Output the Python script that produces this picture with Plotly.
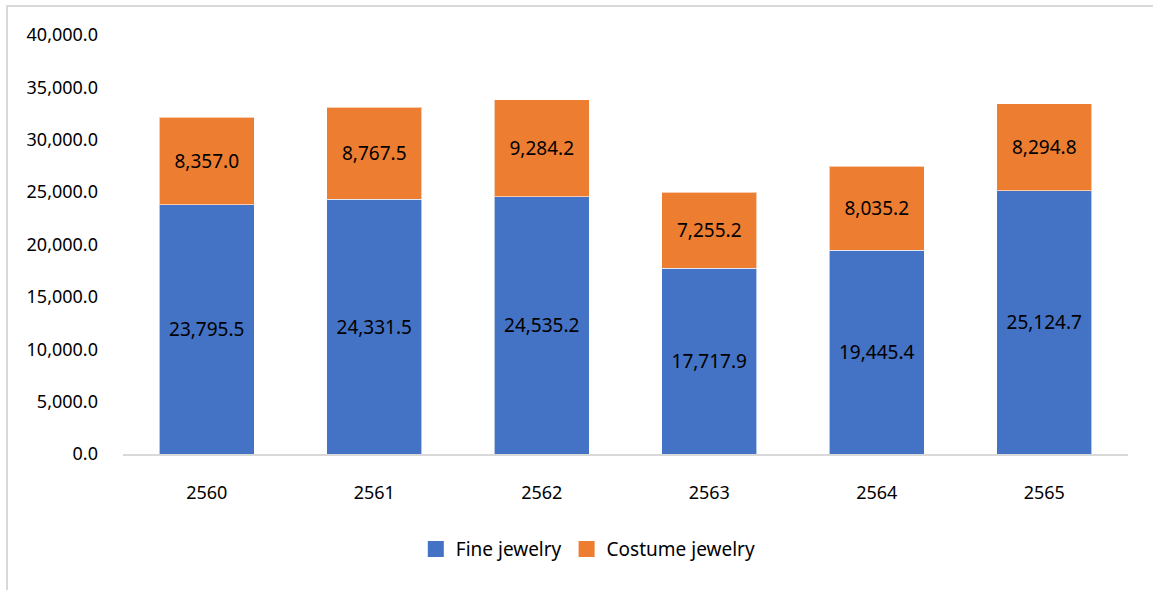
import plotly.graph_objects as go

years = ["2560", "2561", "2562", "2563", "2564", "2565"]
fine = [23795.5, 24331.5, 24535.2, 17717.9, 19445.4, 25124.7]
costume = [8357.0, 8767.5, 9284.2, 7255.2, 8035.2, 8294.8]
series_names = ["Fine jewelry", "Costume jewelry"]
colors = ["#4472C4", "#ED7D31"]
y_ticks = [0, 5000, 10000, 15000, 20000, 25000, 30000, 35000, 40000]

FONT = "Noto Sans"
fig = go.Figure()
for name, vals, col in zip(series_names, [fine, costume], colors):
    fig.add_trace(go.Bar(
        x=years, y=vals, name=name, showlegend=False,
        marker=dict(color=col, line=dict(color="rgba(255,255,255,0.6)", width=1)),
        texttemplate="%{y:,.1f}", textposition="inside", insidetextanchor="middle",
        textfont=dict(family=FONT, size=19, color="#000000"),
        constraintext="none", hoverinfo="skip",
    ))
    fig.add_trace(go.Scatter(
        x=[None], y=[None], mode="markers", name=name,
        marker=dict(symbol="square", size=16, color=col),
    ))

fig.update_layout(
    barmode="stack", bargap=0.433,
    width=1153, height=590,
    margin=dict(l=123, r=25, t=35, b=136),
    paper_bgcolor="white", plot_bgcolor="white",
    font=dict(family=FONT, size=18, color="#000000"),
    legend=dict(orientation="h", x=0.463, xanchor="center", y=-0.227, yanchor="middle",
                traceorder="normal",
                font=dict(family=FONT, size=19, color="#000000"), itemclick=False),
    xaxis=dict(type="category", showgrid=False, showline=True, linecolor="#d9d9d9",
               linewidth=1.5, ticks="", ticklabelstandoff=22,
               tickfont=dict(family=FONT, size=18)),
    yaxis=dict(range=[0, 40000], tickvals=y_ticks, tickformat=",.1f", showgrid=False,
               zeroline=False, showline=False, ticks="", ticklabelstandoff=24,
               tickfont=dict(family=FONT, size=18)),
    shapes=[dict(type="rect", xref="paper", yref="paper",
                 x0=(7 - 123) / 1005, x1=1.2, y0=-0.6, y1=(454 - 6) / 419,
                 line=dict(color="#d9d9d9", width=2), fillcolor="rgba(0,0,0,0)",
                 layer="below")],
)

fig.write_html("out.html")
